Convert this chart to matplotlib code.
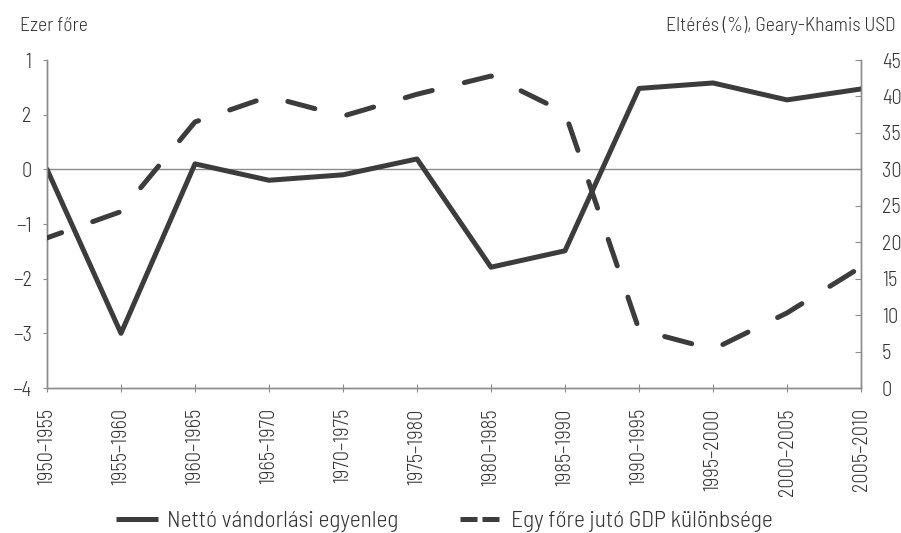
import matplotlib
matplotlib.use("Agg")
import matplotlib.pyplot as plt
from matplotlib.lines import Line2D
from matplotlib import font_manager

names = {f.name for f in font_manager.fontManager.ttflist}
prefs = ["Barlow Semi Condensed", "Barlow Condensed", "Roboto Condensed", "Open Sans Condensed",
         "Archivo Narrow", "PT Sans Narrow", "Liberation Sans Narrow", "Roboto", "DejaVu Sans"]
fam = next(p for p in prefs if p in names)
wlist = sorted({f.weight for f in font_manager.fontManager.ttflist if f.name == fam and f.style == 'normal'},
               key=lambda w: abs((w if isinstance(w, int) else 400) - 300))
wt = wlist[0] if wlist else 'normal'
plt.rcParams['font.family'] = [fam, 'DejaVu Sans']
plt.rcParams['font.weight'] = wt

DPI = 100
W, H = 901, 533

periods = ["1950–1955", "1955–1960", "1960–1965", "1965–1970", "1970–1975", "1975–1980",
           "1980–1985", "1985–1990", "1990–1995", "1995–2000", "2000–2005", "2005–2010"]
net_migration = [0.0, -3.0, 0.1, -0.2, -0.1, 0.19, -1.79, -1.49, 1.48, 1.58, 1.27, 1.47]
gdp_gap = [20.6, 24.2, 36.5, 40.0, 37.3, 40.3, 42.8, 37.8, 8.0, 5.3, 10.3, 16.6]

left_ticks = [2, 1, 0, -1, -2, -3, -4]
left_labels = ["1", "2", "0", "−1", "−2", "−3", "−4"]
right_ticks = [0, 5, 10, 15, 20, 25, 30, 35, 40, 45]
legend_labels = ["Nettó vándorlási egyenleg", "Egy főre jutó GDP különbsége"]

col = "#3c3c3c"
gray = "#8c8c8c"
tc = "#333333"

fig = plt.figure(figsize=(W/DPI, H/DPI), dpi=DPI)

ax = fig.add_axes([47/W, 1-388/H, (861-47)/W, (388-60)/H])
ax2 = ax.twinx()

x = list(range(len(periods)))
lw = 3.6
ax.plot(x, net_migration, color=col, lw=lw, solid_joinstyle='round', solid_capstyle='round', zorder=3)
ax.axhline(0, color=gray, lw=1.0, zorder=1)
ax2.plot(x, gdp_gap, color=col, lw=lw, linestyle=(2.5, (5.6, 6.6)),
         dash_capstyle='round', dash_joinstyle='round', zorder=3)

ax.set_xlim(0, len(periods)-1)
ax.set_ylim(-4, 2)
ax2.set_ylim(0, 45)
ax.set_xticks(x)
ax.set_xticklabels(periods)
ax.set_yticks(left_ticks)
ax.set_yticklabels(left_labels)
ax2.set_yticks(right_ticks)
ax2.set_yticklabels([str(v) for v in right_ticks])

for a in (ax, ax2):
    a.spines['top'].set_visible(False)
    for s in ('left', 'right', 'bottom'):
        a.spines[s].set_color(gray)
        a.spines[s].set_linewidth(1.0)

def style_ticks(fs):
    ax.tick_params(axis='y', direction='out', length=3, color=gray, pad=8,
                   labelsize=fs, labelcolor=tc)
    ax.tick_params(axis='x', direction='inout', length=6, color=gray, pad=11.5,
                   labelsize=fs, labelcolor=tc, labelrotation=90)
    ax2.tick_params(axis='y', direction='in', length=4, color=gray, pad=15,
                    labelsize=fs, labelcolor=tc)

fs_tick = 12
style_ticks(fs_tick)

t_left = fig.text(20/W, 1-31/H, "Ezer főre", fontsize=12, color=tc, va='baseline', ha='left')
t_right = fig.text(895/W, 1-31/H, "Eltérés (%), Geary-Khamis USD", fontsize=12, color=tc,
                   va='baseline', ha='right')

handles = [Line2D([], [], color=col, lw=lw, solid_capstyle='butt'),
           Line2D([], [], color=col, lw=lw, dashes=(3.4, 1.0), dash_capstyle='butt')]

def make_legend(fs):
    return fig.legend(handles, legend_labels,
                      loc='center', bbox_to_anchor=(444.5/W, 1-521/H), ncol=2, frameon=False,
                      fontsize=fs, handlelength=1.77, handletextpad=0.42, columnspacing=2.6,
                      labelcolor=tc, borderpad=0, borderaxespad=0)

leg = make_legend(14)

# scale text sizes so rendered extents match the reference measurements
for _ in range(2):
    fig.canvas.draw()
    r = fig.canvas.get_renderer()
    h_tick = ax.get_xticklabels()[0].get_window_extent(r).height
    fs_tick *= 77 / h_tick
    style_ticks(fs_tick)
    w_head = t_left.get_window_extent(r).width
    fs_head = t_left.get_fontsize() * 68 / w_head
    t_left.set_fontsize(fs_head)
    t_right.set_fontsize(fs_head)
    w_leg = leg.get_texts()[0].get_window_extent(r).width
    fs_leg = leg.get_texts()[0].get_fontsize() * 232 / w_leg
    leg.remove()
    leg = make_legend(fs_leg)

fig.savefig("out.png", dpi=DPI)
